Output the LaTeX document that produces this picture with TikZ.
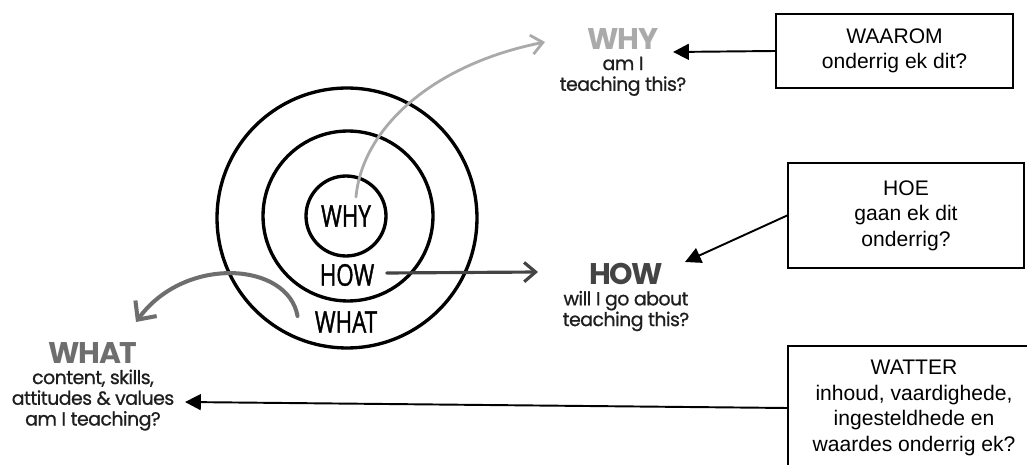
\documentclass[tikz,border=0pt]{standalone}
\usepackage{fontspec}
\setmainfont{Liberation Sans}
\newfontfamily\handfont[FakeStretch=0.75, FakeBold=1.2]{Open Sans}
\newfontfamily\popfont[LetterSpace=-3, FakeBold=0.8]{Poppins}
\newfontfamily\titlefont[LetterSpace=-5]{Poppins}
\usepackage{xcolor}
\usetikzlibrary{arrows.meta,positioning,calc}

\definecolor{whycol}{HTML}{AAAAAA}
\definecolor{howcol}{HTML}{444444}
\definecolor{whatcol}{HTML}{6E6E6E}
\definecolor{bodycol}{HTML}{1E1E1E}

\newcommand{\ttl}[2]{{\color{#1}\titlefont\fontsize{17}{17}\selectfont\bfseries #2}}

\tikzset{
	ring/.style={draw=black, line width=1.9pt, circle, inner sep=0pt},
	hand/.style={font=\handfont\fontsize{17}{20}\selectfont, inner sep=0pt},
	answer/.style={align=center, inner sep=0pt, anchor=north, text=bodycol,
		font=\popfont\fontsize{10.8}{11.8}\selectfont},
	afrbox/.style={draw, line width=1pt, align=center, inner sep=0pt,
		font=\fontsize{12}{14.5}\selectfont},
	afrarrow/.style={line width=1.1pt, -{Triangle[length=9pt,width=9pt]}},
	sketch/.style={line cap=round, -{Straight Barb[length=6.5pt,width=11pt]}},
	bigsketch/.style={line cap=round, -{Straight Barb[length=8pt,width=15pt]}}
}

\begin{document}
\begin{tikzpicture}[x=0.02cm, y=-0.02cm]
	\clip (0,0) rectangle (1027,465);
	% Define nodes
	\node[ring, minimum size=5.2cm]       (outer)  at (347,218) {};
	\node[ring, minimum size=3.4cm]       (middle) at (348,216) {};
	\node[ring, hand, minimum size=1.6cm] (core)   at (346,216) {WHY};
	\node[hand] (how)  at (347,275) {HOW};
	\node[hand] (what) at (346,322) {WHAT};
	% English labels
	\node[answer] (whylbl)  at (623,28)  {\ttl{whycol}{WHY}\\am I\\teaching this?};
	\node[answer] (howlbl)  at (626,263) {\ttl{howcol}{HOW}\\will I go about\\teaching this?};
	\node[answer] (whatlbl) at (93,342)  {\ttl{whatcol}{WHAT}\\content, skills,\\attitudes \& values\\am I teaching?};
	% Afrikaans boxes
	\node[afrbox, minimum width=4.74cm, minimum height=1.48cm] (waarom) at (894.5,51)  {WAAROM\\onderrig ek dit?};
	\node[afrbox, minimum width=4.72cm, minimum height=2.1cm]  (hoe)    at (906,215.5) {HOE\\gaan ek dit\\onderrig?};
	\node[afrbox, minimum width=5.04cm, minimum height=2.48cm] (watter) at (914,408)   {WATTER\\inhoud, vaardighede,\\ingesteldhede en\\waardes onderrig ek?};
	% Arrow ends
	\coordinate (whytip)    at (545,42);
	\coordinate (howtip)    at (538,272);
	\coordinate (whattip)   at (136,322);
	\coordinate (waaromtip) at (673,52);
	\coordinate (hoetip)    at (685,262);
	\coordinate (wattertip) at (185,402);
	% Connect the nodes
	\draw[sketch, whycol, line width=1.6pt] ($(core.center)+(10,-19)$) .. controls (362,130) and (430,65) .. (whytip);
	\draw[sketch, howcol, line width=1.8pt] ($(how.east)+(12,-2)$) -- (howtip);
	\draw[bigsketch, whatcol, line width=2.3pt] ($(what.west)+(-17,-6)$) .. controls (288,262) and (185,255) .. (whattip);
	\draw[afrarrow] (waarom.west) -- (waaromtip);
	\draw[afrarrow] (hoe.west) -- (hoetip);
	\draw[afrarrow] (watter.west) -- (wattertip);
\end{tikzpicture}
\end{document}
